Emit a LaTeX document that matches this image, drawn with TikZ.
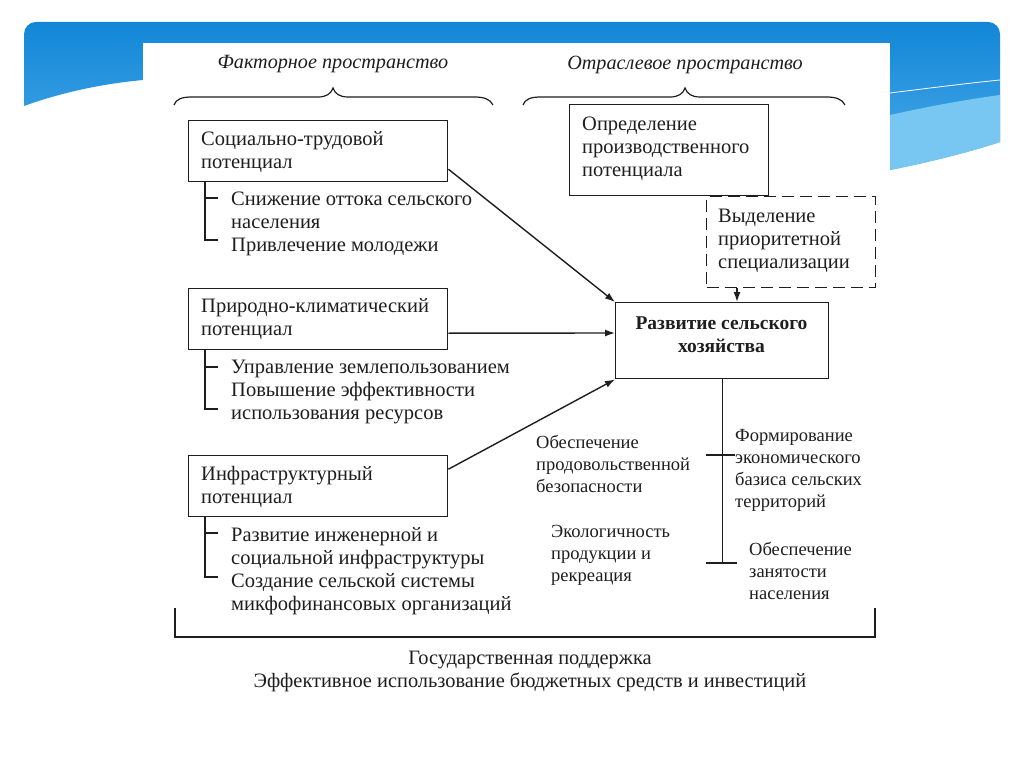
\documentclass[tikz,border=0pt]{standalone}
\usepackage{fontspec}
\setmainfont{Liberation Serif}
\usetikzlibrary{arrows.meta,calc}
\definecolor{bandtop}{HTML}{1286D6}
\definecolor{bandbot}{HTML}{4AABEA}
\definecolor{bandlight}{HTML}{78C6F2}
\definecolor{ink}{HTML}{1E1E1E}
\begin{document}
\begin{tikzpicture}[x=1pt,y=-1pt,
  box/.style={draw=ink, line width=1.4pt, inner sep=0pt, anchor=north west},
  dbox/.style={box, dash pattern=on 12pt off 6pt},
  txt/.style={anchor=west, align=left, inner sep=0pt, yshift=-2.5pt, text=ink, font=\fontsize{20.5}{23}\selectfont},
  rtxt/.style={anchor=west, align=left, inner sep=0pt, yshift=-1pt, text=ink, font=\fontsize{18.5}{22}\selectfont},
  head/.style={inner sep=0pt, yshift=-2.5pt, text=ink, font=\fontsize{20.2}{23}\selectfont\itshape},
  ln/.style={draw=ink, line width=1.4pt},
  arr/.style={ln, -{Latex[length=10pt,width=7pt]}},
  brace/.style={draw=ink, line width=1.2pt}
]
\useasboundingbox (0,0) rectangle (1024,767);
\fill[white] (0,0) rectangle (1024,767);
% slide band
\shade[top color=bandtop, bottom color=bandbot]
  (24,106) [rounded corners=12pt] -- (24,22) -- (1000,22) [sharp corners]
  -- (1000,142) .. controls (970,152) and (930,162) .. (890,170)
  -- (890,80) -- (143,80) .. controls (100,84) and (60,93) .. (24,106) -- cycle;
\fill[bandlight] (890,115) .. controls (930,106) and (970,99) .. (1000,95)
  -- (1000,142) .. controls (970,152) and (930,162) .. (890,170) -- cycle;
\draw[white, line width=0.8pt] (890,93) .. controls (930,88) and (970,83) .. (1000,80);
\fill[white] (143,43) rectangle (890,767);

% headers
\node[head] (h1) at (333,62) {Факторное пространство};
\node[head] (h2) at (685,62) {Отраслевое пространство};
\draw[brace] (174,105) .. controls (176,99) and (182,97) .. (192,97) -- (318,97)
  .. controls (326,97) and (331,94) .. (333,88) .. controls (335,94) and (340,97) .. (348,97)
  -- (474,97) .. controls (484,97) and (490,99) .. (493,105);
\draw[brace] (523,105) .. controls (525,99) and (531,97) .. (541,97) -- (670,97)
  .. controls (678,97) and (683,94) .. (685,88) .. controls (687,94) and (692,97) .. (700,97)
  -- (826,97) .. controls (836,97) and (842,99) .. (845,105);

% left boxes
\node[box, minimum width=259pt, minimum height=61pt] (b1) at (188,120) {};
\node[box, minimum width=259pt, minimum height=61pt] (b2) at (188,288) {};
\node[box, minimum width=259pt, minimum height=61pt] (b3) at (188,455) {};
\node[txt] (b1t) at (201,149.5) {Социально-трудовой\\потенциал};
\node[txt] (b2t) at (201,316.5) {Природно-климатический\\потенциал};
\node[txt] (b3t) at (201,484.5) {Инфраструктурный\\потенциал};

% sub lists
\coordinate (t1a) at (218,198); \coordinate (t1b) at (218,240);
\coordinate (t2a) at (218,367); \coordinate (t2b) at (218,409);
\coordinate (t3a) at (218,533); \coordinate (t3b) at (218,577);
\draw[ln] ($(b1.south west)+(17,0)$) |- (t1b);
\draw[ln] ($(b1.south west)+(17,0)$) |- (t1a);
\draw[ln] ($(b2.south west)+(17,0)$) |- (t2b);
\draw[ln] ($(b2.south west)+(17,0)$) |- (t2a);
\draw[ln] ($(b3.south west)+(17,0)$) |- (t3b);
\draw[ln] ($(b3.south west)+(17,0)$) |- (t3a);
\node[txt] (s1) at (231,221) {Снижение оттока сельского\\населения\\Привлечение молодежи};
\node[txt] (s2) at (231,389.5) {Управление землепользованием\\Повышение эффективности\\использования ресурсов};
\node[txt] (s3) at (231,569) {Развитие инженерной и\\социальной инфраструктуры\\Создание сельской системы\\микфофинансовых организаций};

% right top
\node[box, minimum width=199pt, minimum height=91pt] (pr) at (569,104) {};
\node[txt] (prt) at (582,146.5) {Определение\\производственного\\потенциала};
\node[dbox, minimum width=169pt, minimum height=91pt] (sp) at (706,196) {};
\node[txt] (spt) at (718,238) {Выделение\\приоритетной\\специализации};

% main
\node[box, minimum width=213pt, minimum height=76pt] (main) at (615,302) {};
\node[inner sep=0pt, align=center, yshift=-2pt, text=ink, font=\fontsize{19.5}{23}\selectfont\bfseries] (maint) at (721.5,332.5) {Развитие сельского\\хозяйства};

% arrows
\draw[arr] ($(b1.east)+(0,18)$) -- (main.north west);
\draw[arr] ($(b2.east)+(0,14)$) -- ($(main.north west)+(0,31)$);
\draw[arr] ($(b3.east)+(0,-17)$) -- (main.south west);
\draw[arr] ($(sp.south west)+(31,0)$) -- ($(main.north west)+(122,0)$);

% outputs
\coordinate (o1) at (706,455); \coordinate (o2) at (706,563);
\draw[ln] (main.south) -- (main.south |- o2);
\draw[ln] (o1) -- ++(29,0);
\draw[ln] (o2) -- ++(31,0);
\node[rtxt] (r1) at (536,463) {Обеспечение\\продовольственной\\безопасности};
\node[rtxt] (r2) at (551,554) {Экологичность\\продукции и\\рекреация};
\node[rtxt] (r3) at (735,469) {Формирование\\экономического\\базиса сельских\\территорий};
\node[rtxt] (r4) at (749,570) {Обеспечение\\занятости\\населения};

% bottom bracket
\coordinate (bl) at (175,608); \coordinate (br) at (875,608);
\draw[ln] (bl) -- ++(0,29) -| (br);
\node[inner sep=0pt, align=center, yshift=-2.5pt, text=ink, font=\fontsize{20.4}{23}\selectfont] (gov) at (530,668.5) {Государственная поддержка\\Эффективное использование бюджетных средств и инвестиций};
\end{tikzpicture}
\end{document}
